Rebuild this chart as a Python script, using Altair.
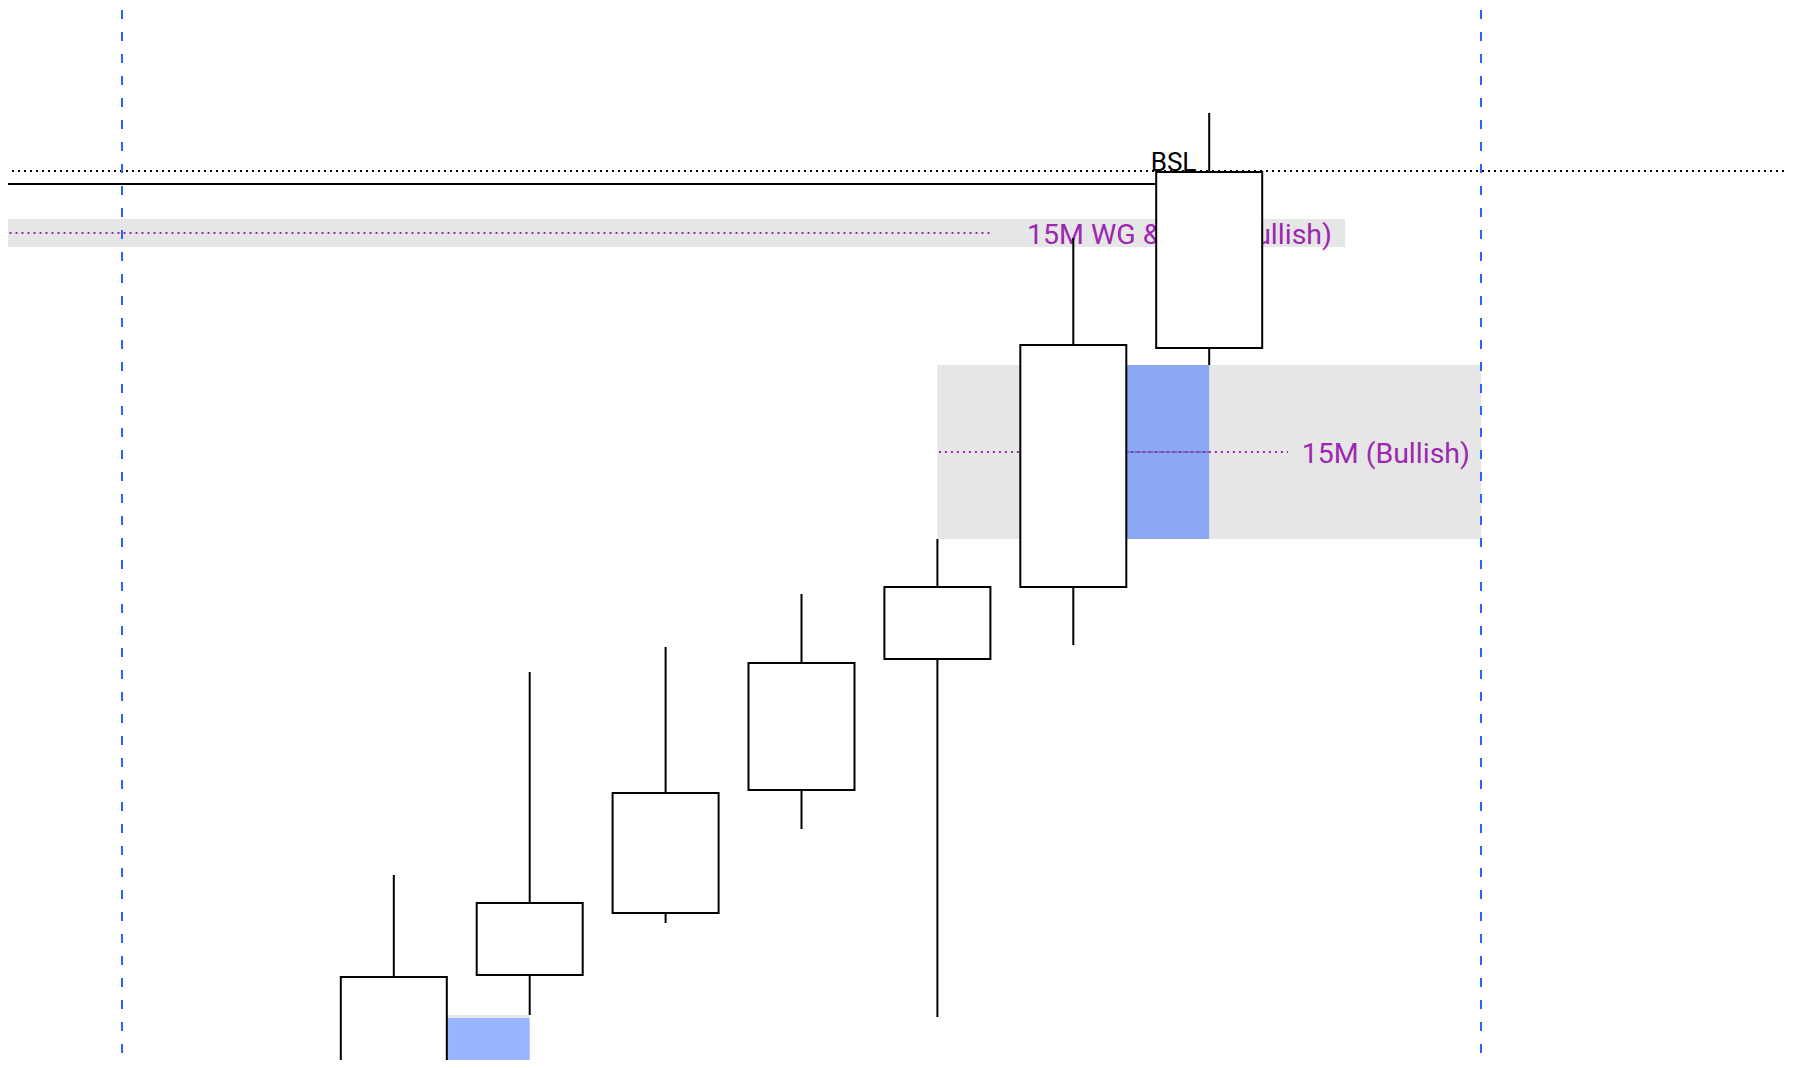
import altair as alt
import pandas as pd

# ---- frame (plot area) ----
W, H = 1778, 1052
X_MIN, X_MAX = -1.8389, 11.2443
Y_MIN, Y_MAX = 5010.0, 5273.0
BODY_HALF = 0.39

# ---- candles ----
candle_idx = [1, 2, 3, 4, 5, 6, 7]
opens  = [5000.0, 5031.25, 5046.75, 5077.5, 5110.25, 5128.25, 5188.0]
highs  = [5056.25, 5107.0, 5113.25, 5126.5, 5140.25, 5215.5, 5246.75]
lows   = [4990.0, 5021.25, 5044.25, 5067.75, 5020.75, 5113.75, 5183.75]
closes = [5030.75, 5049.25, 5076.75, 5109.25, 5128.25, 5188.75, 5232.0]

# ---- gray zones ----
zone_x0  = [X_MIN, 5, 1]
zone_x1  = [8, 9, 2]
zone_top = [5220.25, 5183.75, 5021.25]
zone_bot = [5213.25, 5140.25, 5020.5]

# ---- blue imbalance boxes ----
box_x0  = [6, 1]
box_x1  = [7, 2]
box_top = [5183.75, 5020.5]
box_bot = [5140.25, 4990.0]

# ---- zone midlines and labels ----
mid_x0 = [X_MIN, 5]
mid_x1 = [5.409, 7.58]
mid_y  = [5216.75, 5162.0]
labels  = ["15M WG & FVG (Bullish)", "15M (Bullish)"]
label_x = [7.9036, 8.919]

# ---- liquidity ----
bsl_level = 5232.25
bsl_line_y = 5229.0
bsl_line_end = 7
bsl_text_x = 6.5696
session_x = [-1, 9]

xs = alt.Scale(domain=[X_MIN, X_MAX], nice=False, zero=False)
ys = alt.Scale(domain=[Y_MIN, Y_MAX], nice=False, zero=False)

candles = pd.DataFrame({"i": candle_idx, "open": opens, "high": highs,
                        "low": lows, "close": closes})
zones = pd.DataFrame({"x0": zone_x0, "x1": zone_x1, "top": zone_top, "bot": zone_bot})
boxes = pd.DataFrame({"x0": box_x0, "x1": box_x1, "top": box_top, "bot": box_bot})
mids = pd.DataFrame({"x0": mid_x0, "x1": mid_x1, "y": mid_y})
labs = pd.DataFrame({"x": label_x, "y": mid_y, "t": labels})
ce = pd.DataFrame({"x0": [box_x0[0]], "x1": [box_x1[0]], "y": [mid_y[1]]})
bsl_dot = pd.DataFrame({"x0": [X_MIN], "x1": [X_MAX], "y": [bsl_level]})
bsl_sol = pd.DataFrame({"x0": [X_MIN], "x1": [bsl_line_end], "y": [bsl_line_y]})
bsl_txt = pd.DataFrame({"x": [bsl_text_x], "y": [bsl_level], "t": ["BSL"]})
sess = pd.DataFrame({"x": session_x})

X = lambda f: alt.X(f, type="quantitative", scale=xs, axis=None)
Y = lambda f: alt.Y(f, type="quantitative", scale=ys, axis=None)

zone_layer = alt.Chart(zones).mark_rect(color="#e6e6e6").encode(
    x=X("x0"), x2="x1", y=Y("top"), y2="bot")
box_layer = alt.Chart(boxes).mark_rect(color="#2962ff", opacity=0.47).encode(
    x=X("x0"), x2="x1", y=Y("top"), y2="bot")
ce_layer = alt.Chart(ce).mark_rule(color="#3f51b5", opacity=0.6, strokeWidth=1.5).encode(
    x=X("x0"), x2="x1", y=Y("y"))
mid_layer = alt.Chart(mids).mark_rule(color="#9c27b0", strokeWidth=2,
                                      strokeDash=[2, 4], strokeDashOffset=4.5).encode(
    x=X("x0"), x2="x1", y=Y("y"))
lab_layer = alt.Chart(labs).mark_text(align="right", baseline="alphabetic", dy=11,
                                      font="Roboto", fontSize=28.5, color="#9c27b0").encode(
    x=X("x"), y=Y("y"), text="t:N")
dot_layer = alt.Chart(bsl_dot).mark_rule(color="#000000", strokeWidth=2,
                                         strokeDash=[2, 4], strokeDashOffset=2).encode(
    x=X("x0"), x2="x1", y=Y("y"))
sol_layer = alt.Chart(bsl_sol).mark_rule(color="#000000", strokeWidth=2).encode(
    x=X("x0"), x2="x1", y=Y("y"))
bsl_layer = alt.Chart(bsl_txt).mark_text(align="left", baseline="alphabetic",
                                         font="Roboto", fontSize=26, color="#000000").encode(
    x=X("x"), y=Y("y"), text="t:N")
wick_layer = alt.Chart(candles).mark_rule(color="#000000", strokeWidth=2).encode(
    x=X("i"), y=Y("low"), y2="high")
body_layer = alt.Chart(candles).transform_calculate(
    bx0=f"datum.i - {BODY_HALF}", bx1=f"datum.i + {BODY_HALF}"
).mark_rect(fill="#ffffff", stroke="#000000", strokeWidth=2).encode(
    x=X("bx0"), x2="bx1", y=Y("open"), y2="close")
sess_layer = alt.Chart(sess).mark_rule(color="#2962ff", strokeWidth=2,
                                       strokeDash=[9, 13], strokeDashOffset=20).encode(
    x=X("x"), y=alt.value(0), y2=alt.value(H))

chart = alt.layer(
    zone_layer, box_layer, ce_layer, mid_layer, lab_layer, dot_layer, sol_layer,
    bsl_layer, wick_layer, body_layer, sess_layer
).properties(
    width=W, height=H, padding=0, background="#ffffff",
    autosize=alt.AutoSizeParams(type="none")
).configure_view(strokeWidth=0)

chart.save("out.html", embed_options={"renderer": "svg", "actions": False})
